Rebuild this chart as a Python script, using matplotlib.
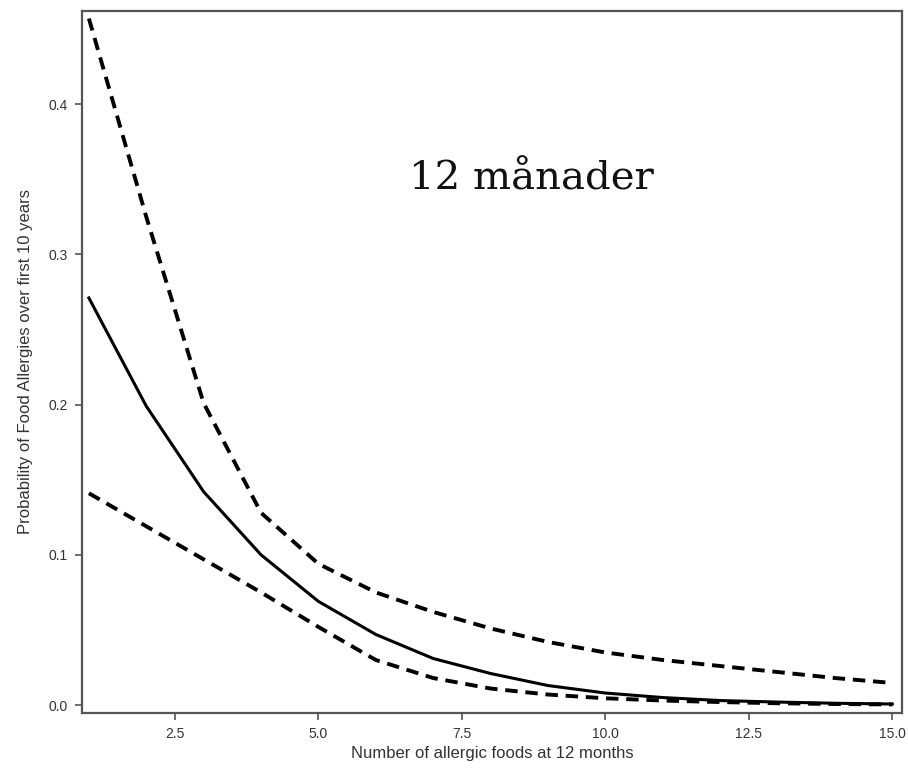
import numpy as np
import matplotlib
matplotlib.use('Agg')
import matplotlib.pyplot as plt

# antal allergiframkallande födoämnen vid 12 månader
foods = [1, 2, 3, 4, 5, 6, 7, 8, 9, 10, 11, 12, 13, 14, 15]
prob = [0.271, 0.199, 0.142, 0.100, 0.069, 0.047, 0.031, 0.021, 0.013,
        0.008, 0.005, 0.003, 0.002, 0.0012, 0.0007]
upper = [0.457, 0.325, 0.201, 0.128, 0.094, 0.075, 0.062, 0.051, 0.042,
         0.035, 0.030, 0.026, 0.022, 0.018, 0.0147]
lower = [0.141, 0.119, 0.097, 0.075, 0.052, 0.030, 0.018, 0.011, 0.007,
         0.0045, 0.003, 0.002, 0.0012, 0.0007, 0.0004]

plt.rcParams['font.family'] = ['Liberation Sans', 'DejaVu Sans']

fig = plt.figure(figsize=(9.08, 7.71), dpi=100)
ax = fig.add_axes([0.0903, 0.0752, 0.9031, 0.9109])

ax.plot(foods, prob, '-', color='black', lw=2.2)
ax.plot(foods, upper, '--', color='black', lw=2.8, dashes=(3.2, 2.0))
ax.plot(foods, lower, '--', color='black', lw=2.8, dashes=(3.2, 2.0))

ax.set_xlim(0.88, 15.17)
ax.set_ylim(-0.0053, 0.4622)
ax.set_xticks([2.5, 5.0, 7.5, 10.0, 12.5, 15.0])
ax.set_yticks([0.0, 0.1, 0.2, 0.3, 0.4])
ax.set_xticklabels(['2.5', '5.0', '7.5', '10.0', '12.5', '15.0'])
ax.set_yticklabels(['0.0', '0.1', '0.2', '0.3', '0.4'])
ax.tick_params(labelsize=10, colors='#555555', labelcolor='#333333',
               length=5, width=1.2, pad=5)
for s in ax.spines.values():
    s.set_color('#555555')
    s.set_linewidth(1.6)

ax.set_xlabel('Number of allergic foods at 12 months', fontsize=12,
              color='#333333', labelpad=4)
ax.set_ylabel('Probability of Food Allergies over first 10 years',
              fontsize=12, color='#333333', labelpad=11)

ax.text(0.548, 0.760, '12 månader', transform=ax.transAxes,
        family='DejaVu Serif', fontsize=29, color='#111111',
        ha='center', va='center')

fig.savefig('out.png', dpi=100)
